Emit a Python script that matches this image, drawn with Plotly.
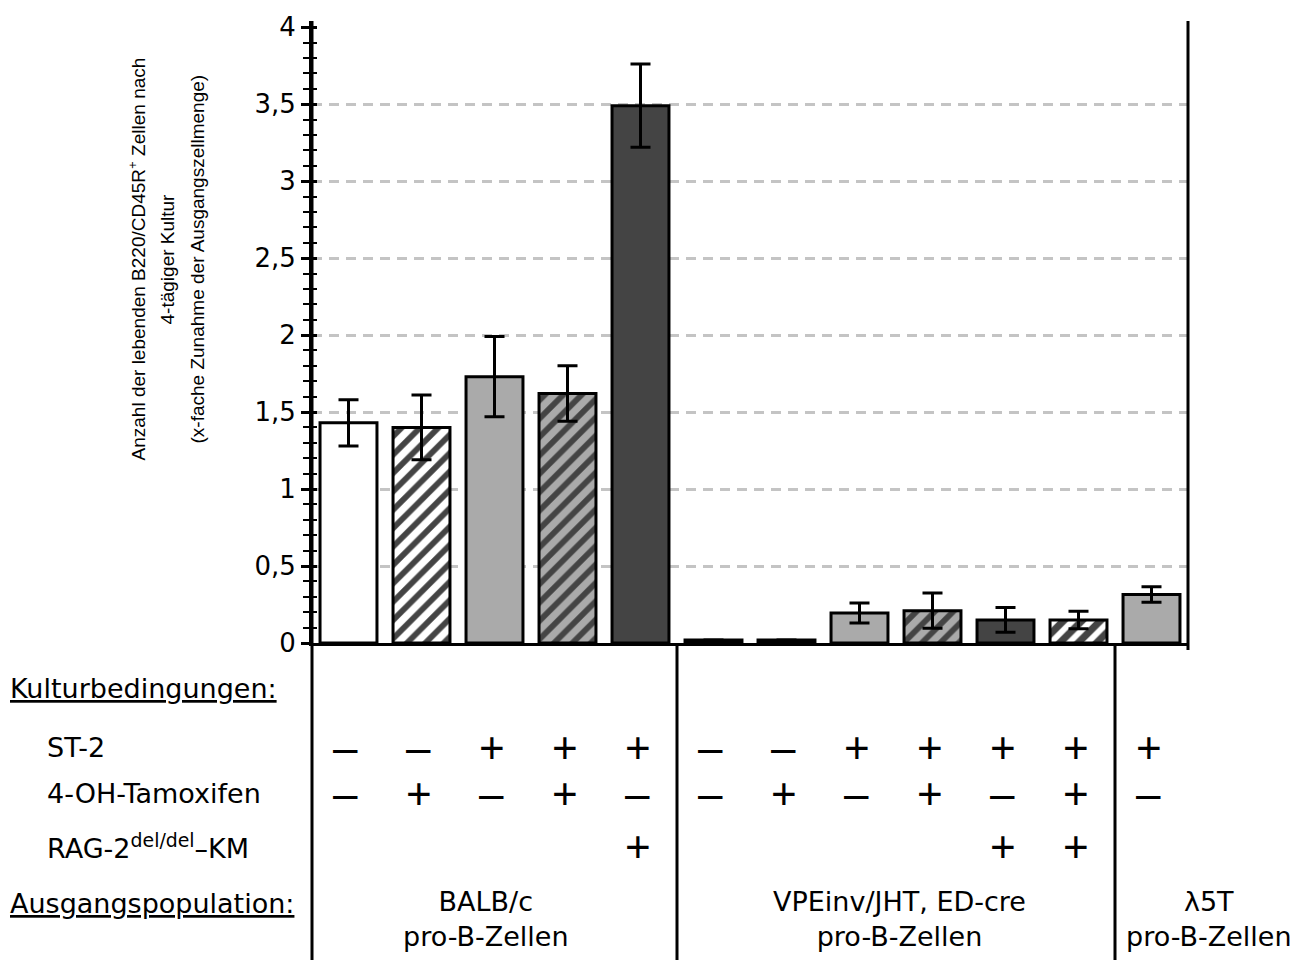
import plotly.graph_objects as go

# ---------------- data ----------------
positions = list(range(12))
values = [1.43, 1.40, 1.73, 1.62, 3.49, 0.02, 0.02, 0.195, 0.21, 0.15, 0.15, 0.315]
errors = [0.15, 0.21, 0.26, 0.18, 0.27, 0, 0, 0.065, 0.115, 0.08, 0.057, 0.05]
fills = ["#ffffff", "#ffffff", "#aaaaaa", "#aaaaaa", "#444444",
         "#ffffff", "#ffffff", "#aaaaaa", "#aaaaaa", "#444444", "#444444", "#aaaaaa"]
hatch = ["", "/", "", "/", "", "", "/", "", "/", "", "/", ""]

st2 = ["–", "–", "+", "+", "+", "–", "–", "+", "+", "+", "+", "+"]
tamoxifen = ["–", "+", "–", "+", "–", "–", "+", "–", "+", "–", "+", "–"]
rag = ["", "", "", "", "+", "", "", "", "", "+", "+", ""]

row_labels = ["ST-2", "4-OH-Tamoxifen", "RAG-2<sup>del/del</sup>–KM"]
section_labels = ["Kulturbedingungen:", "Ausgangspopulation:"]
groups = ["BALB/c<br>pro-B-Zellen", "VPEinv/JHT, ED-cre<br>pro-B-Zellen", "λ5T<br>pro-B-Zellen"]
separators = [4.5, 10.5]

ytickvals = [0, 0.5, 1, 1.5, 2, 2.5, 3, 3.5, 4]
yticktext = ["0", "0,5", "1", "1,5", "2", "2,5", "3", "3,5", "4"]
gridvals = [0.5, 1, 1.5, 2, 2.5, 3, 3.5]

ytitle_lines = ["Anzahl der lebenden B220/CD45R<sup>+</sup> Zellen nach",
                "4-tägiger Kultur",
                "(x-fache Zunahme der Ausgangszellmenge)"]

# ---------------- geometry ----------------
W, H = 1306, 962
ML, MR, MT, MB = 312, 118, 17, 319
PW, PH = W - ML - MR, H - MT - MB
FONT = "Liberation Sans, Arial, Helvetica, sans-serif"
WFONT = "DejaVu Sans, Liberation Sans, sans-serif"
TXT = 27


def py(p):
    """pixel y -> paper y"""
    return (H - MB - p) / PH


def px(p):
    return (p - ML) / PW


fig = go.Figure()
fig.add_trace(go.Bar(
    x=positions, y=values, width=0.78,
    marker=dict(color=fills, line=dict(color="black", width=3),
                pattern=dict(shape=hatch, fgcolor="black", bgcolor=fills,
                             size=13, solidity=0.45, fgopacity=1)),
    error_y=dict(type="data", array=errors, visible=True, color="black",
                 thickness=3, width=10),
    showlegend=False, hoverinfo="skip",
))
for ax in ["y2", "y3"]:
    fig.add_trace(go.Scatter(x=[0], y=[0], yaxis=ax, mode="markers",
                             marker=dict(opacity=0), showlegend=False,
                             hoverinfo="skip"))

YR = [0, 4.04]
fig.update_layout(
    width=W, height=H,
    margin=dict(l=ML, r=MR, t=MT, b=MB),
    paper_bgcolor="white", plot_bgcolor="white",
    font=dict(family=FONT, color="black"),
    xaxis=dict(range=[-0.5, 11.5], showticklabels=False, ticks="",
               showgrid=False, zeroline=False, showline=True,
               linecolor="black", linewidth=3),
    yaxis=dict(range=YR, tickvals=ytickvals, ticktext=yticktext,
               tickfont=dict(size=26, family=WFONT), ticks="outside",
               ticklen=8, tickwidth=3, tickcolor="black",
               showline=True, linecolor="black", linewidth=3,
               showgrid=False, zeroline=False,
               minor=dict(dtick=0.1, ticks="outside", ticklen=6,
                          tickwidth=2, tickcolor="black", showgrid=False)),
    yaxis2=dict(range=YR, overlaying="y", side="left",
                tickvals=ytickvals, showticklabels=False, ticks="inside",
                ticklen=5, tickwidth=3, tickcolor="black", showgrid=False,
                zeroline=False, showline=False,
                minor=dict(dtick=0.1, ticks="inside", ticklen=5,
                           tickwidth=2, tickcolor="black")),
    yaxis3=dict(range=YR, overlaying="y", side="left",
                tickvals=gridvals, showticklabels=False, ticks="",
                showgrid=True, gridcolor="#c4c4c4", gridwidth=3,
                griddash="10px,7px", zeroline=False, showline=False),
)

# vertical lines
fig.add_shape(type="line", xref="paper", yref="paper", x0=0, x1=0,
              y0=py(H), y1=1, line=dict(color="black", width=3))
fig.add_shape(type="line", xref="paper", yref="paper", x0=1, x1=1,
              y0=py(650), y1=1, line=dict(color="black", width=3))
for s in separators:
    xs = (s + 0.5) / 12
    fig.add_shape(type="line", xref="paper", yref="paper", x0=xs, x1=xs,
                  y0=py(H), y1=0, line=dict(color="black", width=3))

# y title (three lines)
for line, xpix in zip(ytitle_lines, [137, 167, 197]):
    fig.add_annotation(text=line, xref="paper", yref="paper", x=px(xpix), y=py(257),
                       textangle=-90, showarrow=False, font=dict(size=19, family=FONT),
                       xanchor="center", yanchor="middle", align="center")

# table section labels
for lab, yy in zip(section_labels, [689, 905]):
    fig.add_annotation(text='<span style="text-decoration:underline">%s</span>' % lab,
                       xref="paper", yref="paper", x=px(8), y=py(yy), xanchor="left",
                       yanchor="middle", showarrow=False,
                       font=dict(size=TXT, family=WFONT))
row_y = [748, 794, 848]
for lab, yy in zip(row_labels, row_y):
    fig.add_annotation(text=lab, xref="paper", yref="paper", x=px(45), y=py(yy),
                       xanchor="left", yanchor="middle", showarrow=False,
                       font=dict(size=TXT, family=WFONT))

for row, yy in zip([st2, tamoxifen, rag], row_y):
    for xi, sym in zip(positions, row):
        if sym:
            fig.add_annotation(text=sym, xref="x", yref="paper", x=xi - 0.04, y=py(yy),
                               xanchor="center", yanchor="middle", showarrow=False,
                               font=dict(size=44, family=FONT))

for g, c in zip(groups, [486, 899, 1209]):
    fig.add_annotation(text=g, xref="paper", yref="paper", x=px(c), y=py(921),
                       xanchor="center", yanchor="middle", showarrow=False,
                       font=dict(size=TXT, family=WFONT), align="center")

fig.write_html("out.html")
